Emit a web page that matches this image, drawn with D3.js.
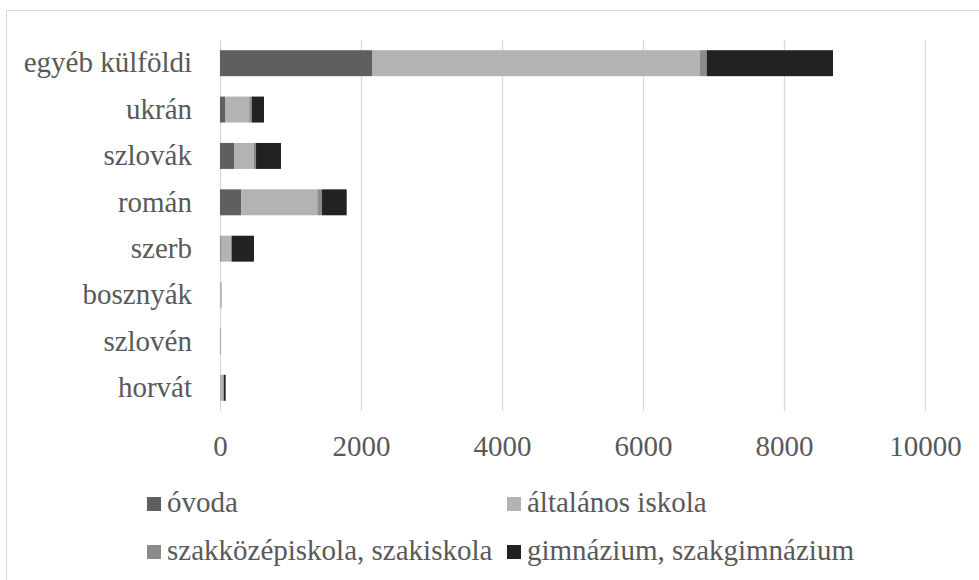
<!DOCTYPE html>
<html><head><meta charset="utf-8">
<script src="https://cdn.jsdelivr.net/npm/d3@7"></script>
<style>body{margin:0;background:#fff}svg{display:block}
svg text{font-family:"Liberation Serif",Tinos,"Times New Roman",Times,"Nimbus Roman","Nimbus Roman No9 L",FreeSerif,"Noto Serif","DejaVu Serif","Noto Serif CJK SC",serif;}
</style>
</head><body>
<svg id="c" width="979" height="580"></svg>
<script>
const categories = ["egyéb külföldi","ukrán","szlovák","román","szerb","bosznyák","szlovén","horvát"];
const seriesNames = ["óvoda","általános iskola","szakközépiskola, szakiskola","gimnázium, szakgimnázium"];
const ovoda =      [2156, 71, 199, 303, 10, 2, 1, 5];
const altalanos =  [4653, 345, 283, 1078, 141, 12, 6, 40];
const szakkozep =  [94, 38, 29, 66, 15, 4, 1, 10];
const gimnazium =  [1792, 170, 354, 350, 316, 2, 2, 25];
const xTicks = [0, 2000, 4000, 6000, 8000, 10000];
const colors = ["#5f5f5f","#b3b3b3","#8b8b8b","#222222"];

const svg = d3.select("#c");
const textColor = "#595959";

svg.append("rect").attr("x",6.5).attr("y",10.5).attr("width",1000).attr("height",600)
  .attr("fill","#fff").attr("stroke","#d9d9d9").attr("stroke-width",1);

const L=220, R=925, T=40, B=411;
const x = d3.scaleLinear().domain([0,10000]).range([L,R]);
const y = d3.scaleBand().domain(categories).range([T,B]).paddingInner(0.44).paddingOuter(0.22);

const rows = categories.map((c,i)=>({cat:c, "0":ovoda[i], "1":altalanos[i], "2":szakkozep[i], "3":gimnazium[i]}));
const stack = d3.stack().keys(["0","1","2","3"])(rows);

svg.append("g").selectAll("line").data(xTicks).join("line")
  .attr("x1",d=>x(d)+0.5).attr("x2",d=>x(d)+0.5).attr("y1",T).attr("y2",B)
  .attr("stroke","#d9d9d9").attr("stroke-width",1.3);

svg.append("g").selectAll("g").data(stack).join("g")
  .attr("fill",(d,i)=>colors[i])
  .selectAll("rect").data(d=>d).join("rect")
  .attr("x",d=>x(d[0])).attr("width",d=>Math.max(0,x(d[1])-x(d[0])))
  .attr("y",d=>y(d.data.cat)).attr("height",y.bandwidth());

const xa = svg.append("g").attr("transform",`translate(0,${B})`)
  .call(d3.axisBottom(x).tickValues(xTicks).tickSize(0).tickPadding(24).tickFormat(d3.format("d")));
xa.select(".domain").remove();
xa.attr("font-family",null);
xa.selectAll("text").attr("font-size",29).attr("fill",textColor).attr("dy","0.71em");

const ya = svg.append("g").attr("transform",`translate(${L},0)`)
  .call(d3.axisLeft(y).tickSize(0).tickPadding(28));
ya.select(".domain").remove();
ya.attr("font-family",null);
ya.selectAll("text").attr("font-size",29).attr("fill",textColor).attr("dy","0.32em");

const legPos = [[147,497],[507,497],[147,545],[507,545]];
const lg = svg.append("g").selectAll("g").data(seriesNames).join("g")
  .attr("transform",(d,i)=>`translate(${legPos[i][0]},${legPos[i][1]})`);
lg.append("rect").attr("width",14).attr("height",14).attr("fill",(d,i)=>colors[i]);
lg.append("text").attr("x",20).attr("y",15).text(d=>d)
  .attr("font-size",29).attr("fill",textColor);
</script>
</body></html>
